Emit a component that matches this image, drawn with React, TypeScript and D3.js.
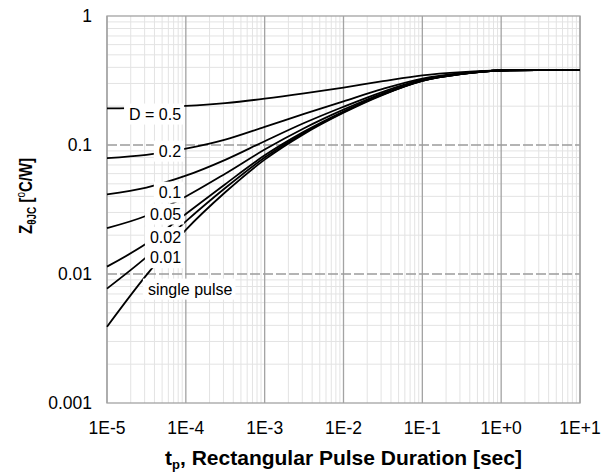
import React, { useEffect, useRef } from 'react';
import * as d3 from 'd3';

// pulse durations (sec)
const tp = [1e-5, 3.16e-5, 1e-4, 3.16e-4, 1e-3, 3.16e-3, 1e-2, 3.16e-2, 1e-1, 3.16e-1, 1, 3.16, 10];

// Z thermal junction-to-case [°C/W] for each duty cycle
const singlePulse = [0.0039, 0.0098, 0.022, 0.043, 0.077, 0.122, 0.178, 0.245, 0.314, 0.355, 0.378, 0.380, 0.380];
const d001 = [0.0077, 0.0135, 0.0256, 0.0464, 0.080, 0.1246, 0.180, 0.2464, 0.3147, 0.3553, 0.378, 0.380, 0.380];
const d002 = [0.0114, 0.0172, 0.0292, 0.0497, 0.0831, 0.127, 0.182, 0.2477, 0.3153, 0.3555, 0.378, 0.380, 0.380];
const d005 = [0.0227, 0.0283, 0.0399, 0.0599, 0.0922, 0.135, 0.188, 0.2518, 0.3173, 0.3563, 0.378, 0.380, 0.380];
const d01 = [0.0415, 0.0468, 0.0578, 0.0767, 0.107, 0.148, 0.198, 0.2585, 0.3206, 0.3575, 0.378, 0.380, 0.380];
const d02 = [0.0791, 0.0838, 0.0936, 0.110, 0.138, 0.174, 0.218, 0.272, 0.327, 0.360, 0.378, 0.380, 0.380];
const d05 = [0.192, 0.195, 0.201, 0.2115, 0.2285, 0.251, 0.279, 0.3125, 0.347, 0.3675, 0.379, 0.380, 0.380];

const seriesList = [d05, d02, d01, d005, d002, d001, singlePulse];

// curve labels: text and where they sit (data coords)
const labelText = ['D = 0.5', '0.2', '0.1', '0.05', '0.02', '0.01', 'single pulse'];
const labelT = [8.7e-5, 8.7e-5, 8.7e-5, 8.7e-5, 8.7e-5, 8.7e-5, 3.3e-5];
const labelZ = [0.174, 0.0898, 0.0432, 0.0292, 0.0192, 0.0134, 0.00765];
const labelAnchor = ['end', 'end', 'end', 'end', 'end', 'end', 'start'];

const xTickValues = [1e-5, 1e-4, 1e-3, 1e-2, 1e-1, 1, 10];
const xTickLabels = ['1E-5', '1E-4', '1E-3', '1E-2', '1E-1', '1E+0', '1E+1'];
const yTickValues = [0.001, 0.01, 0.1, 1];
const yTickLabels = ['0.001', '0.01', '0.1', '1'];

const W = 611, H = 473;
const margin = { top: 16, right: 31, bottom: 70, left: 107 };
const FONT = '"Liberation Sans", Arial, sans-serif';

export default function App() {
  const ref = useRef<SVGSVGElement>(null);

  useEffect(() => {
    const svg = d3.select(ref.current);
    svg.selectAll('*').remove();

    const x = d3.scaleLog().domain([1e-5, 10]).range([margin.left, W - margin.right]);
    const y = d3.scaleLog().domain([0.001, 1]).range([H - margin.bottom, margin.top]);
    const x0 = margin.left, x1 = W - margin.right, y0 = H - margin.bottom, y1 = margin.top;

    svg.append('rect').attr('width', W).attr('height', H).attr('fill', '#fff');

    // minor grid
    const grid = svg.append('g');
    grid.selectAll('.vminor')
      .data(x.ticks().filter(v => !xTickValues.some(t => Math.abs(t - v) / t < 1e-6)))
      .join('line')
      .attr('x1', d => x(d)).attr('x2', d => x(d))
      .attr('y1', y1).attr('y2', y0)
      .attr('stroke', '#e3e3e3').attr('stroke-width', 1);
    grid.selectAll('.hminor')
      .data(y.ticks().filter(v => !yTickValues.some(t => Math.abs(t - v) / t < 1e-6)))
      .join('line')
      .attr('x1', x0).attr('x2', x1)
      .attr('y1', d => y(d)).attr('y2', d => y(d))
      .attr('stroke', '#e3e3e3').attr('stroke-width', 1);

    // major grid
    grid.selectAll('.vmajor')
      .data(xTickValues)
      .join('line')
      .attr('x1', d => x(d)).attr('x2', d => x(d))
      .attr('y1', y1).attr('y2', y0)
      .attr('stroke', '#a3a3a3').attr('stroke-width', 1.3);
    grid.selectAll('.hmajor')
      .data([0.01, 0.1])
      .join('line')
      .attr('x1', x0).attr('x2', x1)
      .attr('y1', d => y(d)).attr('y2', d => y(d))
      .attr('stroke', '#9c9c9c').attr('stroke-width', 1.4)
      .attr('stroke-dasharray', '10,3');

    // frame
    svg.append('rect')
      .attr('x', x0).attr('y', y1).attr('width', x1 - x0).attr('height', y0 - y1)
      .attr('fill', 'none').attr('stroke', '#a3a3a3').attr('stroke-width', 1.3);

    // curves
    const line = d3.line<number>()
      .x((_, i) => x(tp[i]))
      .y(d => y(d))
      .curve(d3.curveMonotoneX);
    svg.append('g').selectAll('path')
      .data(seriesList)
      .join('path')
      .attr('d', d => line(d))
      .attr('fill', 'none')
      .attr('stroke', '#000')
      .attr('stroke-width', 1.8);

    // labels with white boxes
    const lg = svg.append('g');
    const boxes = lg.append('g');
    const texts = lg.selectAll('text')
      .data(labelText)
      .join('text')
      .attr('x', (_, i) => x(labelT[i]))
      .attr('y', (_, i) => y(labelZ[i]))
      .attr('dy', '0.35em')
      .attr('text-anchor', (_, i) => labelAnchor[i])
      .attr('font-family', FONT)
      .attr('font-size', 16)
      .attr('fill', '#000')
      .text(d => d);
    texts.each(function () {
      const b = (this as SVGTextElement).getBBox();
      boxes.append('rect')
        .attr('x', b.x - 5).attr('y', b.y - 2)
        .attr('width', b.width + 8).attr('height', b.height + 4)
        .attr('fill', '#fff');
    });

    // axes tick labels
    svg.append('g').selectAll('text')
      .data(xTickValues)
      .join('text')
      .attr('x', d => x(d))
      .attr('y', y0 + 31)
      .attr('text-anchor', 'middle')
      .attr('font-family', FONT)
      .attr('font-size', 17.5)
      .text((_, i) => xTickLabels[i]);
    svg.append('g').selectAll('text')
      .data(yTickValues)
      .join('text')
      .attr('x', x0 - 15)
      .attr('y', d => y(d))
      .attr('dy', '0.35em')
      .attr('text-anchor', 'end')
      .attr('font-family', FONT)
      .attr('font-size', 17.5)
      .text((_, i) => yTickLabels[i]);

    // x title
    const xt = svg.append('text')
      .attr('x', (x0 + x1) / 2)
      .attr('y', 465)
      .attr('text-anchor', 'middle')
      .attr('font-family', FONT)
      .attr('font-size', 21)
      .attr('font-weight', 'bold');
    xt.append('tspan').text('t');
    xt.append('tspan').attr('font-size', 13).attr('dy', 4).text('p');
    xt.append('tspan').attr('dy', -4).text(', Rectangular Pulse Duration [sec]');

    // y title (squeezed along its length, as in the original)
    const yt = svg.append('text')
      .attr('transform', `translate(32,196) rotate(-90) scale(0.83,1)`)
      .attr('text-anchor', 'middle')
      .attr('font-family', FONT)
      .attr('font-size', 18)
      .attr('font-weight', 'bold');
    yt.append('tspan').text('Z');
    yt.append('tspan').attr('font-size', 12).attr('dy', 4).text('θJC');
    yt.append('tspan').attr('dy', -4).text(' [');
    yt.append('tspan').attr('font-size', 12).attr('dy', -7).attr('font-weight', 'normal').text('o');
    yt.append('tspan').attr('dy', 7).text('C/W]');
  }, []);

  return (
    <svg
      ref={ref}
      width={W}
      height={H}
      style={{ position: 'absolute', left: 0, top: 0, display: 'block' }}
    />
  );
}
